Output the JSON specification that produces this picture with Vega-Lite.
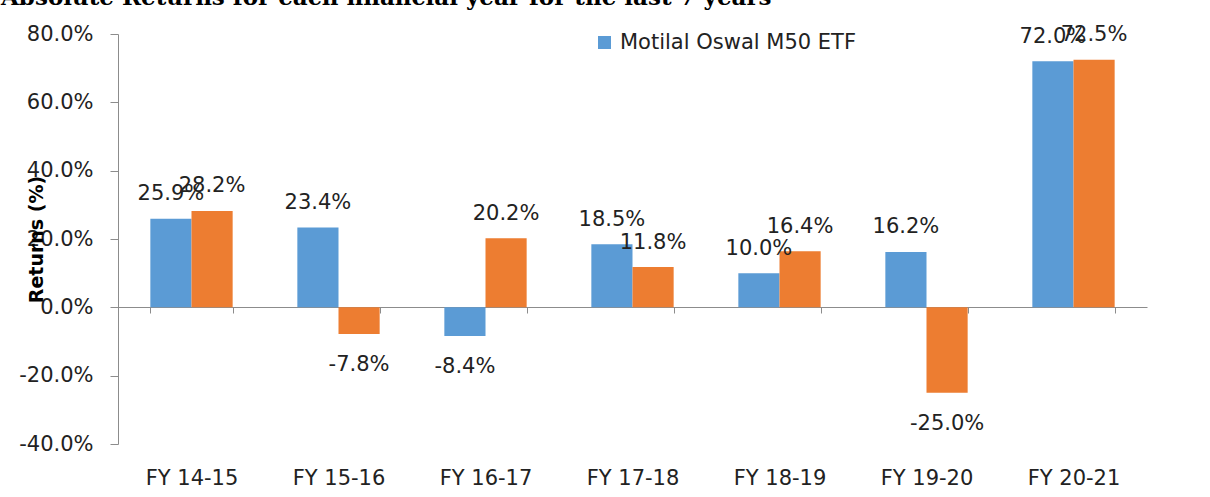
{
  "$schema": "https://vega.github.io/schema/vega-lite/v6.json",
  "width": 1029,
  "height": 410,
  "autosize": {"type": "none"},
  "padding": {"left": 118, "top": 34, "right": 63, "bottom": 53},
  "background": "white",
  "title": {
    "text": "Absolute Returns for each financial year for the last 7 years",
    "anchor": "start",
    "frame": "group",
    "font": "DejaVu Serif",
    "fontSize": 23,
    "fontWeight": "bold",
    "color": "#000000",
    "baseline": "alphabetic",
    "offset": 0,
    "dy": 5,
    "dx": -117
  },
  "config": {
    "view": {"stroke": null},
    "font": "DejaVu Sans",
    "text": {"font": "DejaVu Sans"},
    "locale": {
      "number": {
        "decimal": ".",
        "thousands": ",",
        "grouping": [3],
        "currency": ["$", ""],
        "minus": "-"
      }
    }
  },
  "data": {
    "values": [
      {"fy": "FY 14-15", "series": "Motilal Oswal M50 ETF", "value": 0.259},
      {"fy": "FY 14-15", "series": "Nifty 50 TRI", "value": 0.282},
      {"fy": "FY 15-16", "series": "Motilal Oswal M50 ETF", "value": 0.234},
      {"fy": "FY 15-16", "series": "Nifty 50 TRI", "value": -0.078},
      {"fy": "FY 16-17", "series": "Motilal Oswal M50 ETF", "value": -0.084},
      {"fy": "FY 16-17", "series": "Nifty 50 TRI", "value": 0.202},
      {"fy": "FY 17-18", "series": "Motilal Oswal M50 ETF", "value": 0.185},
      {"fy": "FY 17-18", "series": "Nifty 50 TRI", "value": 0.118},
      {"fy": "FY 18-19", "series": "Motilal Oswal M50 ETF", "value": 0.100},
      {"fy": "FY 18-19", "series": "Nifty 50 TRI", "value": 0.164},
      {"fy": "FY 19-20", "series": "Motilal Oswal M50 ETF", "value": 0.162},
      {"fy": "FY 19-20", "series": "Nifty 50 TRI", "value": -0.250},
      {"fy": "FY 20-21", "series": "Motilal Oswal M50 ETF", "value": 0.720},
      {"fy": "FY 20-21", "series": "Nifty 50 TRI", "value": 0.725}
    ]
  },
  "encoding": {
    "x": {
      "field": "fy",
      "type": "nominal",
      "sort": null,
      "scale": {"paddingInner": 0.44, "paddingOuter": 0.22},
      "axis": {
        "title": null,
        "orient": "bottom",
        "offset": -137,
        "domain": true,
        "domainColor": "#8c8c8c",
        "domainWidth": 1,
        "ticks": true,
        "tickBand": "extent",
        "tickColor": "#8c8c8c",
        "tickSize": 6,
        "labelPadding": 154,
        "labelAngle": 0,
        "labelFont": "DejaVu Sans",
        "labelFontSize": 21,
        "labelColor": "#222222",
        "grid": false
      }
    },
    "xOffset": {
      "field": "series",
      "type": "nominal",
      "sort": ["Motilal Oswal M50 ETF", "Nifty 50 TRI"],
      "scale": {"paddingInner": 0, "paddingOuter": 0}
    },
    "y": {
      "field": "value",
      "type": "quantitative",
      "scale": {"domain": [-0.4, 0.8], "nice": false, "zero": true},
      "axis": {
        "values": [-0.4, -0.2, 0, 0.2, 0.4, 0.6, 0.8],
        "format": ".1%",
        "grid": false,
        "domain": true,
        "domainColor": "#8c8c8c",
        "tickColor": "#8c8c8c",
        "tickSize": 8,
        "labelPadding": 17,
        "labelFont": "DejaVu Sans",
        "labelFontSize": 21,
        "labelColor": "#222222",
        "title": "Returns (%)",
        "titleFont": "DejaVu Sans",
        "titleFontSize": 19,
        "titleFontWeight": "bold",
        "titleColor": "#000000",
        "titleAngle": -90,
        "titleAlign": "center",
        "titleBaseline": "alphabetic",
        "titleX": -76,
        "titleY": 205
      }
    }
  },
  "layer": [
    {
      "mark": {"type": "bar"},
      "encoding": {
        "color": {
          "field": "series",
          "type": "nominal",
          "scale": {
            "domain": ["Motilal Oswal M50 ETF", "Nifty 50 TRI"],
            "range": ["#5B9BD5", "#ED7D31"]
          },
          "legend": {
            "values": ["Motilal Oswal M50 ETF"],
            "orient": "none",
            "legendX": 476,
            "legendY": -2,
            "title": null,
            "symbolType": "square",
            "symbolSize": 169,
            "symbolStrokeWidth": 0,
            "labelFont": "DejaVu Sans",
            "labelFontSize": 21,
            "labelColor": "#222222",
            "labelOffset": 5,
            "labelLimit": 0,
            "padding": 0
          }
        }
      }
    },
    {
      "transform": [{"filter": "datum.value >= 0"}],
      "mark": {"type": "text", "baseline": "alphabetic", "dy": -18.5, "fontSize": 21, "color": "#222222", "font": "DejaVu Sans"},
      "encoding": {
        "text": {"field": "value", "type": "quantitative", "format": ".1%"}
      }
    },
    {
      "transform": [{"filter": "datum.value < 0"}],
      "mark": {"type": "text", "baseline": "top", "dy": 20, "fontSize": 21, "color": "#222222", "font": "DejaVu Sans"},
      "encoding": {
        "text": {"field": "value", "type": "quantitative", "format": ".1%"}
      }
    }
  ]
}
